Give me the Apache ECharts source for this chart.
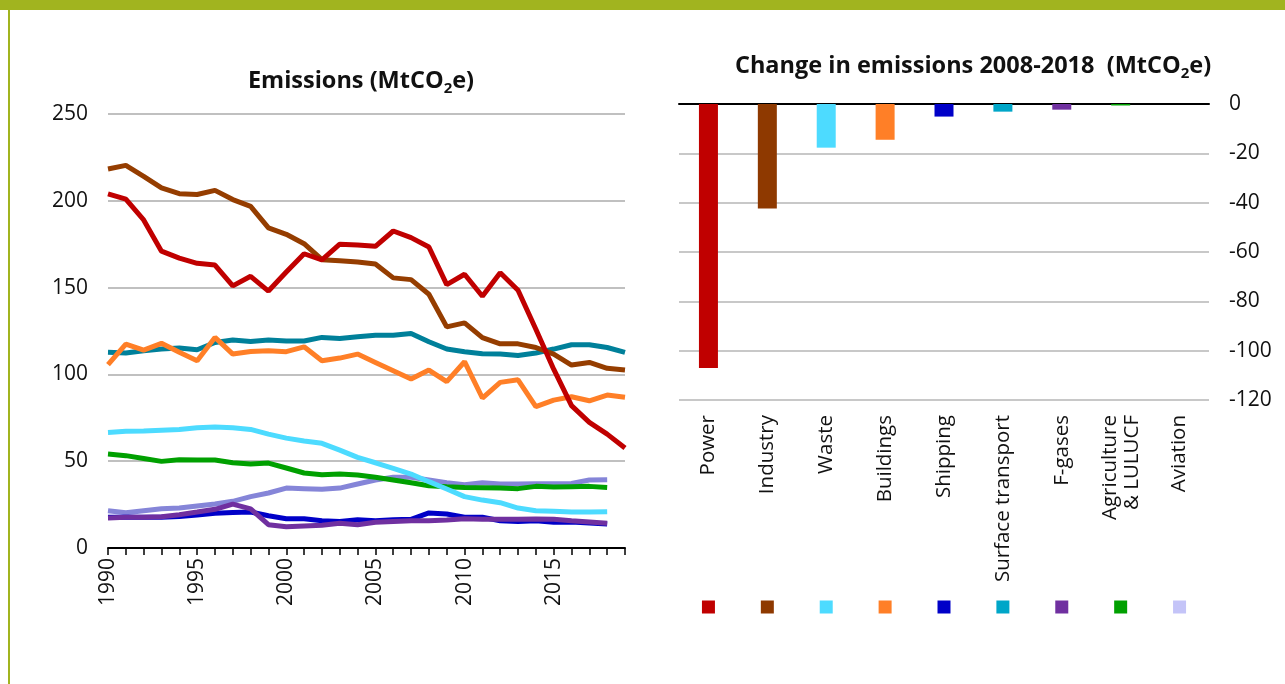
<!DOCTYPE html>
<html>
<head>
<meta charset="utf-8">
<title>Emissions</title>
<script src="https://cdn.jsdelivr.net/npm/echarts@6/dist/echarts.min.js"></script>
<style>
  html, body { margin: 0; padding: 0; background: #fff; }
  #chart { width: 1285px; height: 684px; }
</style>
</head>
<body>
<div id="chart"></div>
<script>
// left chart: emissions by sector, MtCO2e
const years = ['1990', '1991', '1992', '1993', '1994', '1995', '1996', '1997', '1998', '1999',
  '2000', '2001', '2002', '2003', '2004', '2005', '2006', '2007', '2008', '2009',
  '2010', '2011', '2012', '2013', '2014', '2015', '2016', '2017', '2018', '2019'];

const power = [204, 201, 189, 171, 167, 164, 163, 151, 156.5, 148, 159, 169.5, 166, 175, 174.6, 173.8,
  182.6, 178.8, 173.4, 151.7, 157.7, 145, 158.6, 148.5, 126, 103, 82, 72.4, 65.6, 57.6];
const industry = [218.3, 220.4, 214.1, 207.4, 204.1, 203.6, 206, 200.7, 196.8, 184.4, 180.7, 175.3, 166.1,
  165.5, 164.8, 163.6, 155.6, 154.6, 146.2, 127.4, 129.7, 121.2, 117.6, 117.6, 115.5, 111.7, 105.4, 106.9, 103.5, 102.5];
const surfaceTransport = [112.7, 112.3, 113.6, 114.6, 115.2, 114.2, 118.4, 119.8, 119, 119.8, 119.2, 119.2, 121.3,
  120.7, 121.7, 122.5, 122.5, 123.6, 118.8, 114.6, 113.1, 111.9, 111.7, 110.9, 112.3, 114.6, 117.1, 117.1, 115.5, 112.7];
const buildings = [105.6, 117.5, 114, 117.9, 112.7, 107.9, 121.3, 111.7, 113.2, 113.6, 113.1, 115.9, 107.9,
  109.4, 111.7, 106.9, 102.1, 97.3, 102.5, 95.8, 107.3, 86.4, 95.4, 96.9, 81.4, 85.2, 87.1, 84.8, 88.1, 86.8];
const waste = [66.6, 67.2, 67.4, 67.8, 68.2, 69.3, 69.7, 69.3, 68.3, 65.6, 63.3, 61.6, 60.3, 56.4, 52.2,
  49.1, 45.9, 42.6, 38.2, 34, 29.6, 27.6, 26.1, 23, 21.5, 21.1, 20.7, 20.7, 20.9];
const agriculture = [54.1, 53.2, 51.6, 49.9, 50.8, 50.7, 50.7, 49.1, 48.4, 48.9, 46.1, 43.2, 42.2, 42.6, 42,
  40.7, 39.2, 37.6, 35.9, 35.3, 34.9, 34.7, 34.5, 34.2, 35.5, 35.1, 35.3, 35.5, 34.9];
const aviation = [21.5, 20.3, 21.5, 22.6, 23, 24.2, 25.3, 26.9, 29.6, 31.7, 34.5, 34.2, 33.8, 34.5, 36.9,
  39.2, 40.7, 40.7, 39.2, 37.6, 36.5, 37.6, 36.9, 36.9, 37, 37, 37.2, 39.2, 39.3];
const shipping = [17.7, 17.7, 17.7, 17.7, 18.2, 19, 20, 20.5, 20.7, 18.6, 16.9, 16.9, 15.7, 15.3, 16.3,
  15.7, 16.3, 16.5, 20.2, 19.6, 17.7, 17.7, 15.7, 15.3, 15.7, 14.8, 15, 14.4, 13.8];
const fgases = [17.3, 17.7, 17.7, 18, 19.2, 20.7, 22.3, 25.3, 22.5, 13.4, 12.3, 12.7, 13.1, 14.2, 13.4,
  14.8, 15.3, 15.7, 15.7, 16.1, 16.9, 16.5, 16.5, 16.5, 16.7, 16.5, 15.7, 15, 14.2];

// right chart: change 2008-2018
const sectors = ['Power', 'Industry', 'Waste', 'Buildings', 'Shipping', 'Surface transport',
  'F-gases', 'Agriculture\n& LULUCF', 'Aviation'];
const change = [-107, -42.4, -17.7, -14.5, -5.1, -3.1, -2.3, -0.6, 0];
const markerRow = [0.5, 0.5, 0.5, 0.5, 0.5, 0.5, 0.5, 0.5, 0.5];

const barColors = ['#c00000', '#8e3900', '#4ddbff', '#ff7f27', '#0000c8', '#00a6c8', '#7030a0', '#00a000', '#c4c4f8'];

const FONT = 'Open Sans';
const txt = '#111';

function lineSeries(name, data, color) {
  return {
    name: name,
    type: 'line',
    xAxisIndex: 0,
    yAxisIndex: 0,
    data: data,
    showSymbol: false,
    symbol: 'none',
    lineStyle: { width: 5, color: color },
    itemStyle: { color: color },
    silent: true
  };
}

const titleRich = {
  a: { fontFamily: FONT, fontWeight: 'bold', fontSize: 23.5, color: txt, lineHeight: 30 },
  s: { fontFamily: FONT, fontWeight: 'bold', fontSize: 15, color: txt, lineHeight: 17, verticalAlign: 'bottom' }
};

let myChart = echarts.init(document.getElementById('chart'));
myChart.setOption({
  animation: false,
  textStyle: { fontFamily: FONT },
  title: [
    {
      text: '{a|Emissions (MtCO}{s|2}{a|e)}',
      left: 356,
      top: 61,
      textAlign: 'center',
      textStyle: { rich: titleRich }
    },
    {
      text: '{a|Change in emissions 2008-2018  (MtCO}{s|2}{a|e)}',
      left: 968,
      top: 46,
      textAlign: 'center',
      textStyle: { rich: titleRich }
    }
  ],
  graphic: [
    { type: 'rect', shape: { x: 0, y: 0, width: 1285, height: 10 }, style: { fill: '#a1b41f' } },
    { type: 'rect', shape: { x: 8, y: 10, width: 2, height: 674 }, style: { fill: '#a1b41f' } }
  ],
  grid: [
    { left: 108, right: 660, top: 114, bottom: 136 },
    { left: 679, right: 76, top: 104, bottom: 284 },
    { left: 679, right: 76, top: 600, height: 14 }
  ],
  xAxis: [
    {
      gridIndex: 0,
      type: 'category',
      data: years,
      boundaryGap: false,
      axisLine: { lineStyle: { color: '#000', width: 2 } },
      axisTick: { show: true, interval: 0, length: 7, lineStyle: { color: '#000', width: 1.5 } },
      axisLabel: { interval: 4, rotate: 90, margin: 10, fontSize: 21, color: txt, fontFamily: FONT }
    },
    {
      gridIndex: 1,
      type: 'category',
      data: sectors,
      position: 'bottom',
      axisLine: { show: false },
      axisTick: { show: false },
      axisLabel: { interval: 0, rotate: 90, margin: 15, fontSize: 20.5, lineHeight: 22, color: txt, fontFamily: FONT }
    },
    {
      // black zero line along the top of the bar chart
      gridIndex: 1,
      type: 'category',
      data: sectors,
      position: 'top',
      axisLine: { show: true, onZero: false, lineStyle: { color: '#000', width: 2 } },
      axisTick: { show: false },
      axisLabel: { show: false }
    },
    {
      gridIndex: 2,
      type: 'category',
      data: sectors,
      show: false
    }
  ],
  yAxis: [
    {
      gridIndex: 0,
      type: 'value',
      min: 0,
      max: 250,
      interval: 50,
      axisLine: { show: false },
      axisTick: { show: false },
      axisLabel: { margin: 20, fontSize: 21, color: txt, fontFamily: FONT },
      splitLine: { lineStyle: { color: '#c0c0c0', width: 2 } }
    },
    {
      gridIndex: 1,
      type: 'value',
      position: 'right',
      min: -120,
      max: 0,
      interval: 20,
      axisLine: { show: false },
      axisTick: { show: false },
      axisLabel: { margin: 20, fontSize: 21, color: txt, fontFamily: FONT, align: 'left' },
      splitLine: { lineStyle: { color: '#c8c8c8', width: 2 } }
    },
    {
      gridIndex: 2,
      type: 'value',
      min: 0,
      max: 1,
      show: false
    }
  ],
  series: [
    lineSeries('Aviation', aviation, '#8585d8'),
    lineSeries('Agriculture & LULUCF', agriculture, '#00a000'),
    lineSeries('Shipping', shipping, '#0000c8'),
    lineSeries('F-gases', fgases, '#7030a0'),
    lineSeries('Surface transport', surfaceTransport, '#00809a'),
    lineSeries('Buildings', buildings, '#ff7f27'),
    lineSeries('Waste', waste, '#4ddbff'),
    lineSeries('Industry', industry, '#953d00'),
    lineSeries('Power', power, '#c00000'),
    {
      name: 'Change 2008-2018',
      type: 'bar',
      xAxisIndex: 1,
      yAxisIndex: 1,
      data: change,
      barWidth: 19,
      silent: true,
      itemStyle: {
        color: function (p) { return barColors[p.dataIndex]; }
      }
    },
    {
      // colour key squares under each category
      name: 'key',
      type: 'scatter',
      xAxisIndex: 3,
      yAxisIndex: 2,
      data: markerRow,
      symbol: 'rect',
      symbolSize: 13,
      silent: true,
      itemStyle: {
        opacity: 1,
        color: function (p) { return barColors[p.dataIndex]; }
      }
    }
  ]
});
</script>
</body>
</html>
